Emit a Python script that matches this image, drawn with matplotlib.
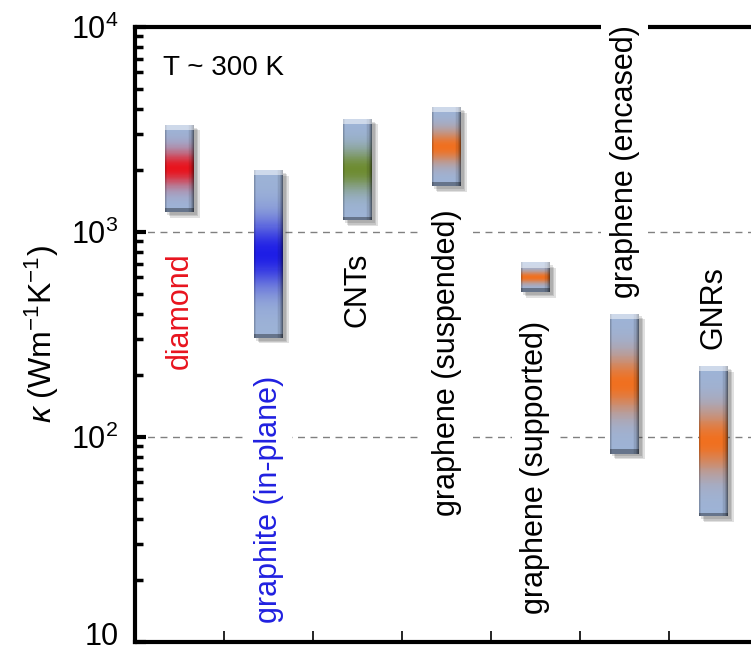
import numpy as np
import matplotlib.pyplot as plt
import matplotlib.transforms as mtransforms
from matplotlib.colors import to_rgb
from matplotlib.patches import Rectangle

plt.rcParams['font.family'] = ['Liberation Sans', 'DejaVu Sans']
plt.rcParams['mathtext.fontset'] = 'custom'
plt.rcParams['mathtext.rm'] = 'Liberation Sans'
plt.rcParams['mathtext.it'] = 'Liberation Sans:italic'

# Thermal conductivity ranges at room temperature
materials = ['diamond', 'graphite (in-plane)', 'CNTs', 'graphene (suspended)',
             'graphene (supported)', 'graphene (encased)', 'GNRs']
kappa_low = [1250, 305, 1140, 1670, 510, 83, 41]
kappa_high = [3340, 2010, 3570, 4080, 710, 400, 222]
core_colors = ['#e8141e', '#1e1ee6', '#6e8c32', '#f07020', '#f07020', '#f07020', '#f07020']
label_colors = ['#e8141e', '#2020e0', 'black', 'black', 'black', 'black', 'black']
label_tops = [795, 198, 795, 1286, 367, 10230, 680]

ytick_vals = [10, 100, 1000, 10000]
ytick_labels = ['10', '$10^2$', '$10^3$', '$10^4$']

edge_rgb = np.array(to_rgb('#9db3d6'))
bar_w = 0.33


def draw_bar(ax, x, lo, hi, core):
    ny, nx = 160, 24
    ly = np.linspace(np.log10(lo), np.log10(hi), ny + 1)
    ys = 10 ** ly
    xs = np.linspace(x - bar_w / 2, x + bar_w / 2, nx + 1)
    lc = 0.5 * (ly[1:] + ly[:-1])
    t = (lc - ly[0]) / (ly[-1] - ly[0])
    u = (np.arange(nx) + 0.5) / nx
    wgt = np.exp(-((t - 0.5) / 0.2) ** 2)
    col = edge_rgb[None, :] * (1 - wgt[:, None]) + np.array(to_rgb(core))[None, :] * wgt[:, None]
    img = np.repeat(col[:, None, :], nx, axis=1)
    shade = 1 - 0.55 * np.clip((u - 0.78) / 0.22, 0, 1) ** 1.5 - 0.25 * np.clip((0.1 - u) / 0.1, 0, 1)
    img = img * shade[None, :, None]
    # bevel: light top cap, dark bottom cap
    top = (ly[-1] - lc) < 0.025
    bot = (lc - ly[0]) < 0.02
    img[top] = img[top] * 0.5 + 0.5
    img[bot] = img[bot] * 0.65
    # drop shadow
    for k in range(3):
        f = 10 ** (-0.014 - 0.007 * k)
        ax.add_patch(Rectangle((x - bar_w / 2 + 0.03 + 0.015 * k, lo * f), bar_w, (hi - lo) * f,
                               facecolor='#303030', edgecolor='none', alpha=0.15, zorder=2))
    ax.pcolormesh(xs, ys, np.clip(img, 0, 1), shading='flat', zorder=3)


fig = plt.figure(figsize=(7.51, 6.54), dpi=100)
ax = fig.add_axes([135 / 751, 12 / 654, 623 / 751, 615 / 654])
ax.set_yscale('log')
ax.set_ylim(10, 10000)
ax.set_xlim(0, 7)

ax.axhline(1000, color='#808080', ls=(0, (5, 4)), lw=1, zorder=1)
ax.axhline(100, color='#808080', ls=(0, (5, 4)), lw=1, zorder=1)

xpos = np.arange(len(materials)) + 0.5
for x, lo, hi, c in zip(xpos, kappa_low, kappa_high, core_colors):
    draw_bar(ax, x, lo, hi, c)

for x, name, top, c in zip(xpos, materials, label_tops, label_colors):
    ax.text(x, top, name, rotation=90, ha='center', va='top', fontsize=22, color=c,
            zorder=6, clip_on=False,
            bbox=dict(facecolor='white', edgecolor='none', pad=6))

ax.text(0.045, 0.955, 'T ~ 300 K', transform=ax.transAxes, ha='left', va='top', fontsize=20)

for s in ['left', 'bottom', 'top']:
    ax.spines[s].set_linewidth(3)
ax.spines['right'].set_visible(False)

ax.set_yticks(ytick_vals)
ax.set_yticklabels(ytick_labels)
ax.tick_params(axis='y', which='major', direction='in', length=8, width=3, labelsize=22, pad=12)
ax.tick_params(axis='y', which='minor', direction='in', length=6, width=2.5)
ax.set_xticks([1, 2, 3, 4, 5, 6])
ax.set_xticklabels([])
ax.tick_params(axis='x', which='major', direction='in', length=8, width=1.2)
ax.tick_params(axis='x', which='minor', bottom=False)

# nudge the bottom "10" up so it stays inside the figure
lab10 = ax.get_yticklabels()[0]
lab10.set_transform(lab10.get_transform() + mtransforms.ScaledTranslation(0, 6 / 72, fig.dpi_scale_trans))

ax.set_ylabel(r'$\kappa$ (Wm$^{-1}$K$^{-1}$)', fontsize=23, labelpad=7)

plt.savefig('out.png', dpi=100)
